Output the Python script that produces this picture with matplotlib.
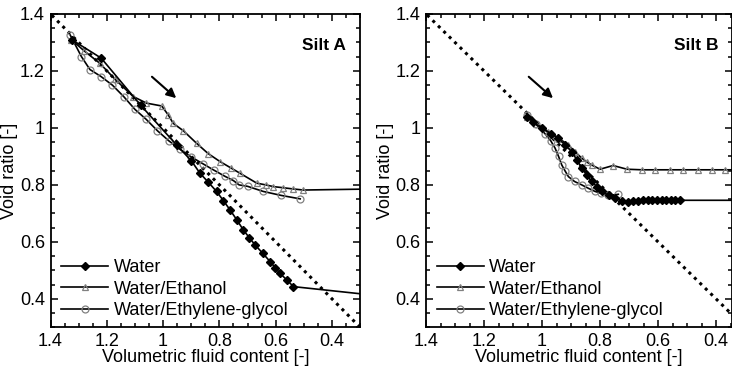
import matplotlib
matplotlib.use("Agg")
import matplotlib.pyplot as plt
from matplotlib.ticker import MultipleLocator, FuncFormatter

plt.rcParams["font.family"] = ["Liberation Sans", "DejaVu Sans"]

# ---- Silt A ----
a_water_x = [1.325, 1.22, 1.08, 0.952, 0.90, 0.869, 0.84, 0.81, 0.786, 0.762, 0.738, 0.715,
             0.694, 0.673, 0.646, 0.62, 0.602, 0.585, 0.56, 0.537, 0.30]
a_water_y = [1.31, 1.245, 1.08, 0.94, 0.885, 0.841, 0.81, 0.777, 0.745, 0.712, 0.677, 0.642,
             0.615, 0.589, 0.56, 0.531, 0.51, 0.49, 0.466, 0.443, 0.418]
a_eth_x = [1.326, 1.28, 1.225, 1.17, 1.106, 1.059, 1.005, 0.982, 0.964, 0.928, 0.881, 0.84,
           0.798, 0.76, 0.727, 0.667, 0.635, 0.608, 0.573, 0.54, 0.502, 0.30]
a_eth_y = [1.31, 1.27, 1.227, 1.17, 1.11, 1.087, 1.077, 1.046, 1.016, 0.99, 0.946, 0.91,
           0.882, 0.86, 0.841, 0.806, 0.80, 0.794, 0.79, 0.786, 0.782, 0.785]
a_gly_x = [1.33, 1.29, 1.26, 1.22, 1.18, 1.14, 1.10, 1.06, 1.02, 0.98, 0.94, 0.90, 0.86,
           0.82, 0.78, 0.75, 0.73, 0.70, 0.644, 0.58, 0.513]
a_gly_y = [1.326, 1.25, 1.205, 1.18, 1.15, 1.11, 1.065, 1.03, 0.99, 0.955, 0.925, 0.898, 0.875,
           0.852, 0.83, 0.815, 0.80, 0.795, 0.777, 0.763, 0.751]

# ---- Silt B ----
b_water_x = [1.053, 1.03, 1.001, 0.97, 0.944, 0.92, 0.898, 0.88, 0.863, 0.846, 0.829, 0.81,
             0.794, 0.77, 0.748, 0.725, 0.702, 0.685, 0.668, 0.652, 0.636, 0.62, 0.604, 0.588,
             0.572, 0.556, 0.54, 0.524, 0.30]
b_water_y = [1.04, 1.02, 0.999, 0.98, 0.964, 0.94, 0.917, 0.888, 0.859, 0.835, 0.812, 0.793,
             0.777, 0.763, 0.753, 0.745, 0.741, 0.743, 0.745, 0.746, 0.746, 0.746, 0.746, 0.746,
             0.746, 0.746, 0.746, 0.746, 0.746]
b_eth_x = [1.053, 1.02, 0.978, 0.94, 0.909, 0.885, 0.863, 0.845, 0.829, 0.80, 0.755, 0.707,
           0.655, 0.61, 0.559, 0.514, 0.462, 0.414, 0.369, 0.30]
b_eth_y = [1.04, 1.015, 0.987, 0.962, 0.94, 0.915, 0.894, 0.88, 0.87, 0.855, 0.868, 0.855,
           0.853, 0.853, 0.853, 0.853, 0.853, 0.853, 0.853, 0.853]
b_gly_x = [1.053, 1.02, 0.99, 0.97, 0.955, 0.943, 0.932, 0.92, 0.909, 0.888, 0.863, 0.84,
           0.817, 0.795, 0.771, 0.737]
b_gly_y = [1.045, 1.012, 0.98, 0.955, 0.929, 0.9, 0.87, 0.848, 0.829, 0.812, 0.8, 0.788,
           0.777, 0.77, 0.763, 0.767]

ref_line = [1.5, 0.2]  # saturation line e = theta

panels = [
    ("Silt A", (1.4, 0.3), a_water_x, a_water_y, a_eth_x, a_eth_y, a_gly_x, a_gly_y,
     ((1.047, 1.186), (0.946, 1.098))),
    ("Silt B", (1.4, 0.345), b_water_x, b_water_y, b_eth_x, b_eth_y, b_gly_x, b_gly_y,
     ((1.053, 1.186), (0.955, 1.098))),
]

fig = plt.figure(figsize=(7.32, 3.67), dpi=100)
boxes = [[0.069, 0.108, 0.423, 0.854], [0.582, 0.108, 0.418, 0.854]]
grey = "#808080"

for box, (name, xlim, wx, wy, ex, ey, gx, gy, arr) in zip(boxes, panels):
    ax = fig.add_axes(box)
    ax.plot(ref_line, ref_line, color="black", ls=(0, (1, 1.5)), lw=2.2)
    ax.plot(gx, gy, color="black", lw=1.2, marker="o", ms=5, mfc="none", mec=grey, mew=0.9,
            label="Water/Ethylene-glycol")
    ax.plot(ex, ey, color="black", lw=1.2, marker="^", ms=5, mfc="none", mec=grey, mew=0.9,
            markevery=list(range(len(ex) - 1)), label="Water/Ethanol")
    ax.plot(wx, wy, color="black", lw=1.2, marker="D", ms=4, mfc="black", mec="black",
            markevery=list(range(len(wx) - 1)), label="Water")
    ax.annotate("", xy=arr[1], xytext=arr[0],
                arrowprops=dict(arrowstyle="-|>", color="black", lw=1.5, mutation_scale=14))
    ax.text(0.955, 0.9, name, transform=ax.transAxes, ha="right", va="center",
            fontsize=12.5, fontweight="bold")

    ax.set_xlim(*xlim)
    ax.set_ylim(0.3, 1.4)
    ax.xaxis.set_major_locator(MultipleLocator(0.2))
    ax.yaxis.set_major_locator(MultipleLocator(0.2))
    ax.xaxis.set_minor_locator(MultipleLocator(0.05))
    ax.yaxis.set_minor_locator(MultipleLocator(0.05))
    fmt = FuncFormatter(lambda v, p: f"{v:g}")
    ax.xaxis.set_major_formatter(fmt)
    ax.yaxis.set_major_formatter(fmt)
    ax.tick_params(which="both", direction="in", top=True, right=True, labelsize=13, width=1.1)
    ax.tick_params(which="major", length=5, pad=4)
    ax.tick_params(which="minor", length=3)
    for s in ax.spines.values():
        s.set_linewidth(1.3)
    ax.set_xlabel("Volumetric fluid content [-]", fontsize=13, labelpad=-1)
    ax.set_ylabel("Void ratio [-]", fontsize=13, labelpad=1)

    h, l = ax.get_legend_handles_labels()
    ax.legend(h[::-1], l[::-1], loc="lower left", bbox_to_anchor=(0.035, 0.026), frameon=False,
              fontsize=13, handlelength=2.6, handletextpad=0.3, labelspacing=0.25,
              borderpad=0, borderaxespad=0)

fig.savefig("out.png", dpi=100)
